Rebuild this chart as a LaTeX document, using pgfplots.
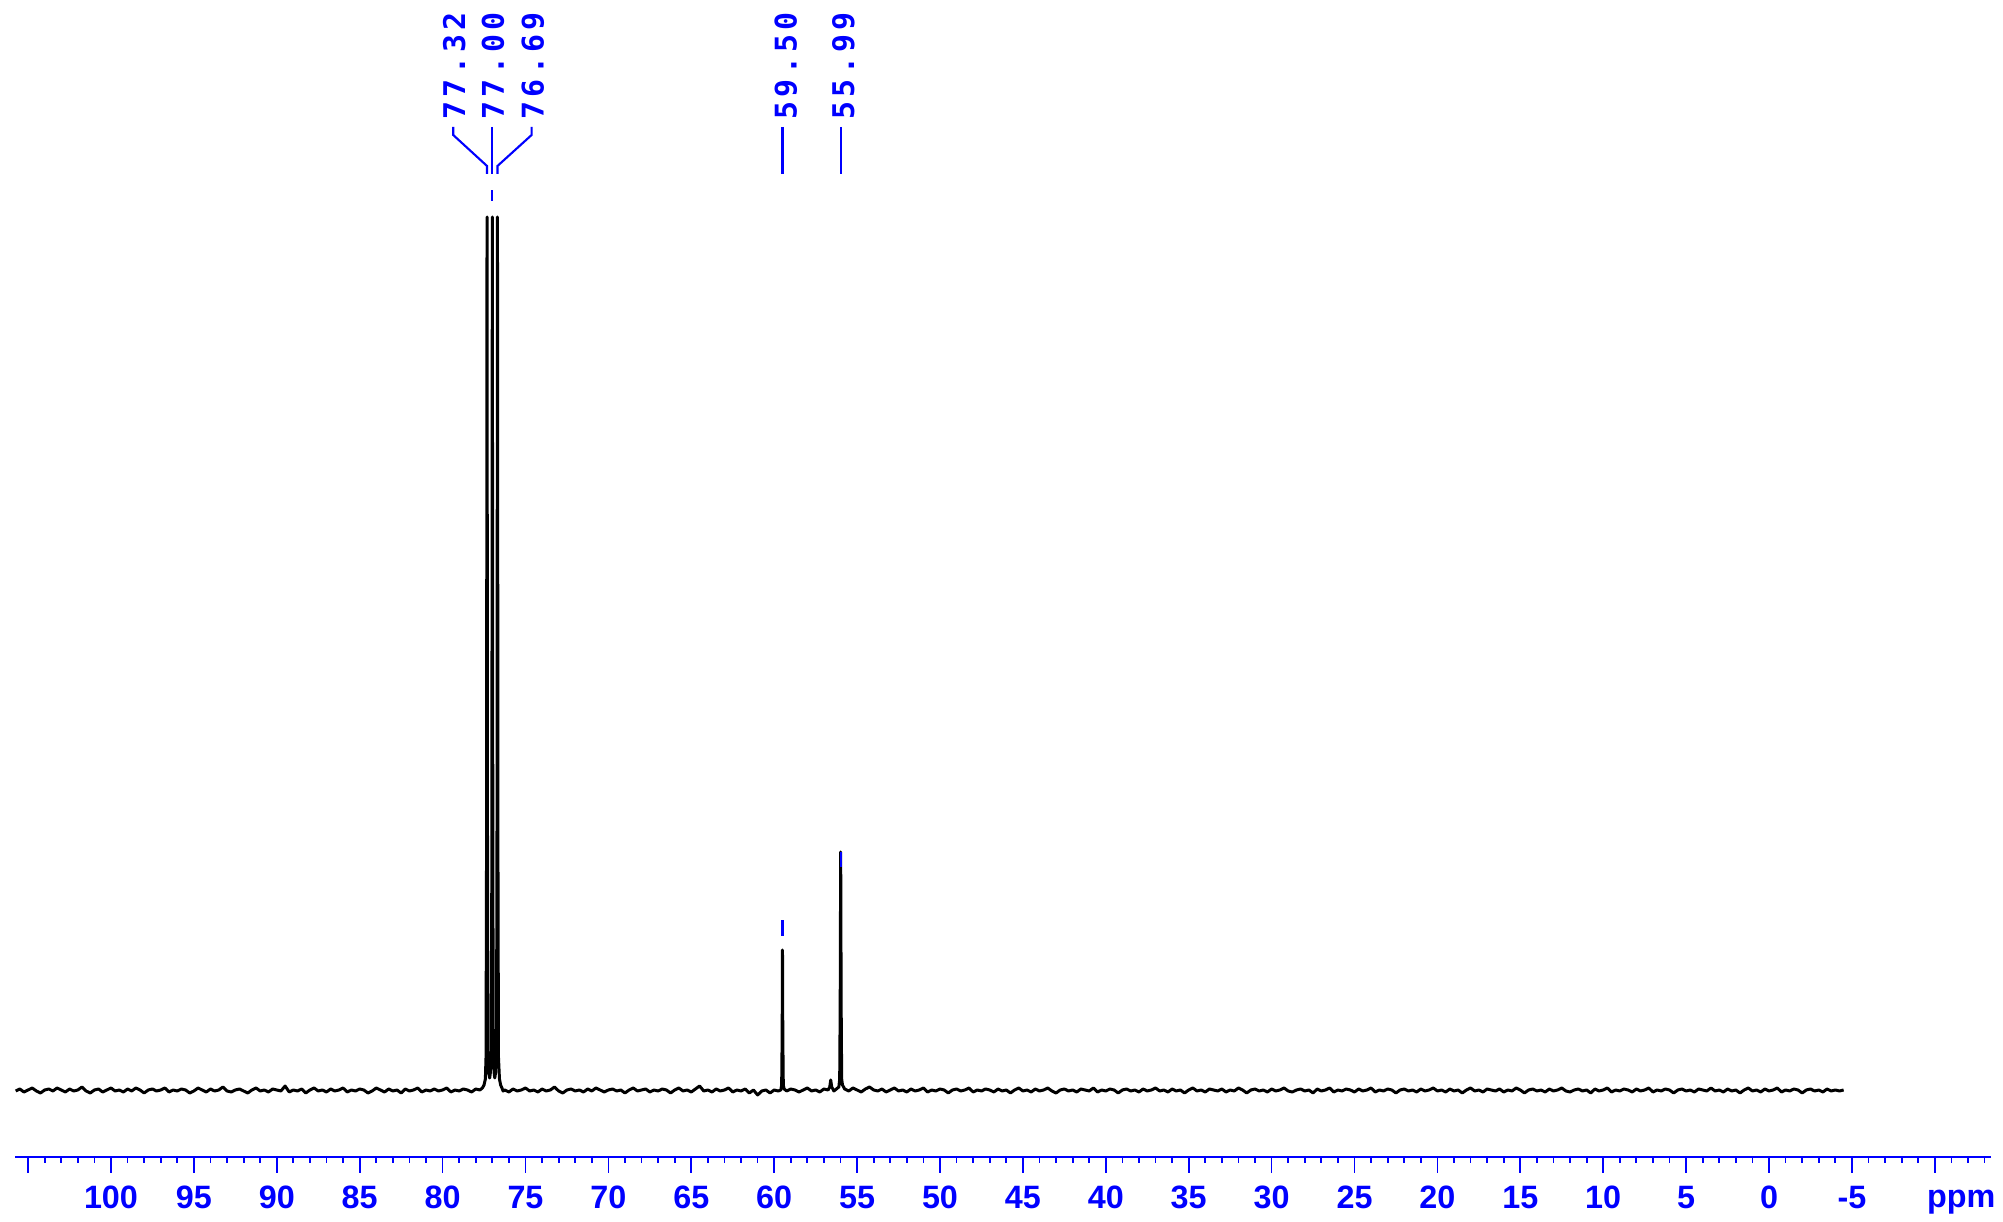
\documentclass[border=0pt]{standalone}
\usepackage{pgfplots}
\pgfplotsset{compat=1.18}
\usepackage{fontspec}
\setmainfont{Liberation Sans}
\newfontfamily\labfont[LetterSpace=14]{DejaVu Sans Mono}
\begin{document}
\begin{tikzpicture}
\begin{axis}[
  scale only axis, width=197.57mm, height=115.7mm,
  xmin=-13.39, xmax=105.77, x dir=reverse,
  ymin=0, ymax=1157,
  axis x line*=bottom, axis y line=none,
  x axis line style={blue, line width=0.5pt},
  clip=false,
  tick align=outside,
  xtick={105,100,...,-10},
  xticklabels={,100,95,90,85,80,75,70,65,60,55,50,45,40,35,30,25,20,15,10,5,0,-5,},
  minor xtick={-13,-12,...,105},
  major tick length=1.6mm, minor tick length=0.6mm,
  tick style={blue, line width=0.5pt},
  xticklabel style={text=blue, font=\fontsize{9.2}{11}\selectfont\bfseries, anchor=base, yshift=-3.6mm},
]
\path (axis cs:106.695,-62) rectangle (axis cs:-14.113,1157);
\addplot[black, line width=0.85pt, line join=round] coordinates {
(105.75,66) (105.5,68) (105.25,65) (105,67) (104.75,69) (104.5,66) (104.25,64) (104,67) (103.75,68) (103.5,66) (103.25,69) (103,67)
(102.75,65) (102.5,68) (102.25,66) (102,67) (101.75,70) (101.5,66) (101.25,64) (101,67) (100.75,68) (100.5,65) (100.25,67) (100,69)
(99.75,66) (99.5,67) (99.25,65) (99,68) (98.75,66) (98.5,69) (98.25,67) (98,64) (97.75,67) (97.5,68) (97.25,66) (97,67)
(96.75,69) (96.5,65) (96.25,67) (96,66) (95.75,68) (95.5,67) (95.25,64) (95,66) (94.75,69) (94.5,67) (94.25,65) (94,68)
(93.75,66) (93.5,67) (93.25,70) (93,66) (92.75,65) (92.5,67) (92.25,68) (92,66) (91.75,64) (91.5,67) (91.25,69) (91,66)
(90.75,67) (90.5,65) (90.25,68) (90,67) (89.75,66) (89.5,71) (89.25,65) (89,67) (88.75,66) (88.5,68) (88.25,64) (88,67)
(87.75,69) (87.5,66) (87.25,67) (87,65) (86.75,68) (86.5,66) (86.25,67) (86,69) (85.75,65) (85.5,67) (85.25,66) (85,68)
(84.75,67) (84.5,64) (84.25,66) (84,69) (83.75,67) (83.5,65) (83.25,68) (83,66) (82.75,67) (82.5,64) (82.25,68) (82,66)
(81.75,67) (81.5,69) (81.25,65) (81,67) (80.75,66) (80.5,68) (80.25,66) (80,67) (79.75,69) (79.5,65) (79.25,67) (79,66)
(78.75,68) (78.5,67) (78.25,65) (78,68) (77.75,67)
(77.6,69) (77.5,72) (77.42,78) (77.38,100) (77.35,300) (77.32,940) (77.29,300) (77.26,100) (77.2,82) (77.16,79) (77.12,84)
(77.06,100) (77.03,300) (77.00,940) (76.97,300) (76.94,100) (76.88,82) (76.85,79) (76.81,84)
(76.75,100) (76.72,300) (76.69,940) (76.66,300) (76.63,100) (76.57,78) (76.5,72) (76.42,69) (76.35,66)
(76.25,67) (76,65) (75.75,68) (75.5,66) (75.25,67) (75,69) (74.75,66) (74.5,67) (74.25,65) (74,68) (73.75,66) (73.5,67)
(73.25,70) (73,66) (72.75,64) (72.5,67) (72.25,68) (72,66) (71.75,67) (71.5,65) (71.25,68) (71,66) (70.75,69) (70.5,67)
(70.25,65) (70,67) (69.75,68) (69.5,66) (69.25,67) (69,64) (68.75,67) (68.5,69) (68.25,66) (68,67) (67.75,68) (67.5,65)
(67.25,67) (67,66) (66.75,68) (66.5,67) (66.25,64) (66,67) (65.75,69) (65.5,66) (65.25,67) (65,65) (64.75,68) (64.5,71)
(64.25,66) (64,67) (63.75,65) (63.5,68) (63.25,66) (63,67) (62.75,69) (62.5,65) (62.25,67) (62,66) (61.75,68) (61.5,64)
(61.25,67) (61,62) (60.75,66) (60.5,67) (60.25,64) (60,67) (59.75,66)
(59.6,67) (59.55,72) (59.52,120) (59.5,207) (59.48,120) (59.45,72) (59.4,68)
(59.25,66) (59,68) (58.75,67) (58.5,65) (58.25,67) (58,69) (57.75,66) (57.5,67) (57.25,65) (57,68) (56.75,67)
(56.65,70) (56.59,77) (56.53,70) (56.4,66) (56.25,68) (56.1,70)
(56.05,78) (56.02,150) (55.99,305) (55.96,150) (55.93,78) (55.88,72)
(55.75,68) (55.5,66) (55.25,69) (55,67) (54.75,65) (54.5,68) (54.25,70) (54,67)
(53.75,66) (53.5,68) (53.25,65) (53,67) (52.75,69) (52.5,66) (52.25,67) (52,65) (51.75,68) (51.5,66) (51.25,67) (51,69)
(50.75,65) (50.5,67) (50.25,66) (50,68) (49.75,67) (49.5,64) (49.25,67) (49,68) (48.75,66) (48.5,67) (48.25,69) (48,65)
(47.75,67) (47.5,66) (47.25,68) (47,67) (46.75,65) (46.5,68) (46.25,66) (46,67) (45.75,64) (45.5,67) (45.25,69) (45,66)
(44.75,67) (44.5,65) (44.25,68) (44,66) (43.75,67) (43.5,69) (43.25,66) (43,64) (42.75,67) (42.5,68) (42.25,66) (42,67)
(41.75,65) (41.5,68) (41.25,67) (41,66) (40.75,69) (40.5,65) (40.25,67) (40,66) (39.75,68) (39.5,67) (39.25,64) (39,67)
(38.75,68) (38.5,66) (38.25,67) (38,65) (37.75,68) (37.5,66) (37.25,67) (37,69) (36.75,66) (36.5,67) (36.25,65) (36,68)
(35.75,66) (35.5,67) (35.25,64) (35,67) (34.75,69) (34.5,66) (34.25,67) (34,65) (33.75,68) (33.5,67) (33.25,66) (33,68)
(32.75,65) (32.5,67) (32.25,66) (32,69) (31.75,67) (31.5,64) (31.25,67) (31,68) (30.75,66) (30.5,67) (30.25,65) (30,68)
(29.75,66) (29.5,67) (29.25,69) (29,66) (28.75,65) (28.5,67) (28.25,68) (28,66) (27.75,67) (27.5,64) (27.25,68) (27,66)
(26.75,67) (26.5,69) (26.25,65) (26,67) (25.75,66) (25.5,68) (25.25,67) (25,65) (24.75,68) (24.5,66) (24.25,67) (24,69)
(23.75,65) (23.5,67) (23.25,66) (23,68) (22.75,67) (22.5,64) (22.25,67) (22,68) (21.75,66) (21.5,67) (21.25,65) (21,68)
(20.75,66) (20.5,67) (20.25,69) (20,66) (19.75,67) (19.5,65) (19.25,68) (19,66) (18.75,67) (18.5,64) (18.25,67) (18,69)
(17.75,66) (17.5,67) (17.25,65) (17,68) (16.75,67) (16.5,66) (16.25,68) (16,65) (15.75,67) (15.5,66) (15.25,69) (15,67)
(14.75,64) (14.5,67) (14.25,68) (14,66) (13.75,67) (13.5,65) (13.25,68) (13,66) (12.75,67) (12.5,69) (12.25,66) (12,65)
(11.75,67) (11.5,68) (11.25,66) (11,67) (10.75,64) (10.5,68) (10.25,66) (10,67) (9.75,69) (9.5,65) (9.25,67) (9,66)
(8.75,68) (8.5,67) (8.25,65) (8,68) (7.75,66) (7.5,67) (7.25,69) (7,65) (6.75,67) (6.5,66) (6.25,68) (6,67)
(5.75,64) (5.5,67) (5.25,68) (5,66) (4.75,67) (4.5,65) (4.25,68) (4,67) (3.75,66) (3.5,69) (3.25,66) (3,67)
(2.75,65) (2.5,68) (2.25,66) (2,67) (1.75,64) (1.5,67) (1.25,69) (1,66) (0.75,67) (0.5,65) (0.25,68) (0,66)
(-0.25,67) (-0.5,69) (-0.75,65) (-1,67) (-1.25,66) (-1.5,68) (-1.75,67) (-2,64) (-2.25,67) (-2.5,68) (-2.75,66) (-3,67)
(-3.25,65) (-3.5,68) (-3.75,66) (-4,67) (-4.25,66) (-4.5,67)
};
% peak labels
\begin{scope}[blue, line width=0.6pt]
\draw (axis cs:79.36,1030)--(axis cs:79.36,1022)--(axis cs:77.32,991)--(axis cs:77.32,983);
\draw (axis cs:77.00,1030)--(axis cs:77.00,983);
\draw (axis cs:74.63,1030)--(axis cs:74.63,1022)--(axis cs:76.69,991)--(axis cs:76.69,983);
\draw (axis cs:59.50,1030)--(axis cs:59.50,983);
\draw (axis cs:55.99,1030)--(axis cs:55.99,983);
\draw (axis cs:77.00,956)--(axis cs:77.00,967);
\draw (axis cs:59.50,221)--(axis cs:59.50,237);
\draw (axis cs:55.99,290)--(axis cs:55.99,305);
\end{scope}
\begin{scope}[every node/.style={rotate=90, anchor=west, inner sep=0pt, text=blue, font=\labfont\bfseries\fontsize{8.5}{10}\selectfont}]
\node at (axis cs:79.30,1037) {77.32};
\node at (axis cs:76.96,1037) {77.00};
\node at (axis cs:74.55,1037) {76.69};
\node at (axis cs:59.30,1037) {59.50};
\node at (axis cs:55.83,1037) {55.99};
\end{scope}
\node[anchor=base, inner sep=0pt, text=blue, font=\fontsize{9.2}{11}\selectfont\bfseries] at (axis cs:-11.6,-51) {ppm};
\end{axis}
\end{tikzpicture}
\end{document}
